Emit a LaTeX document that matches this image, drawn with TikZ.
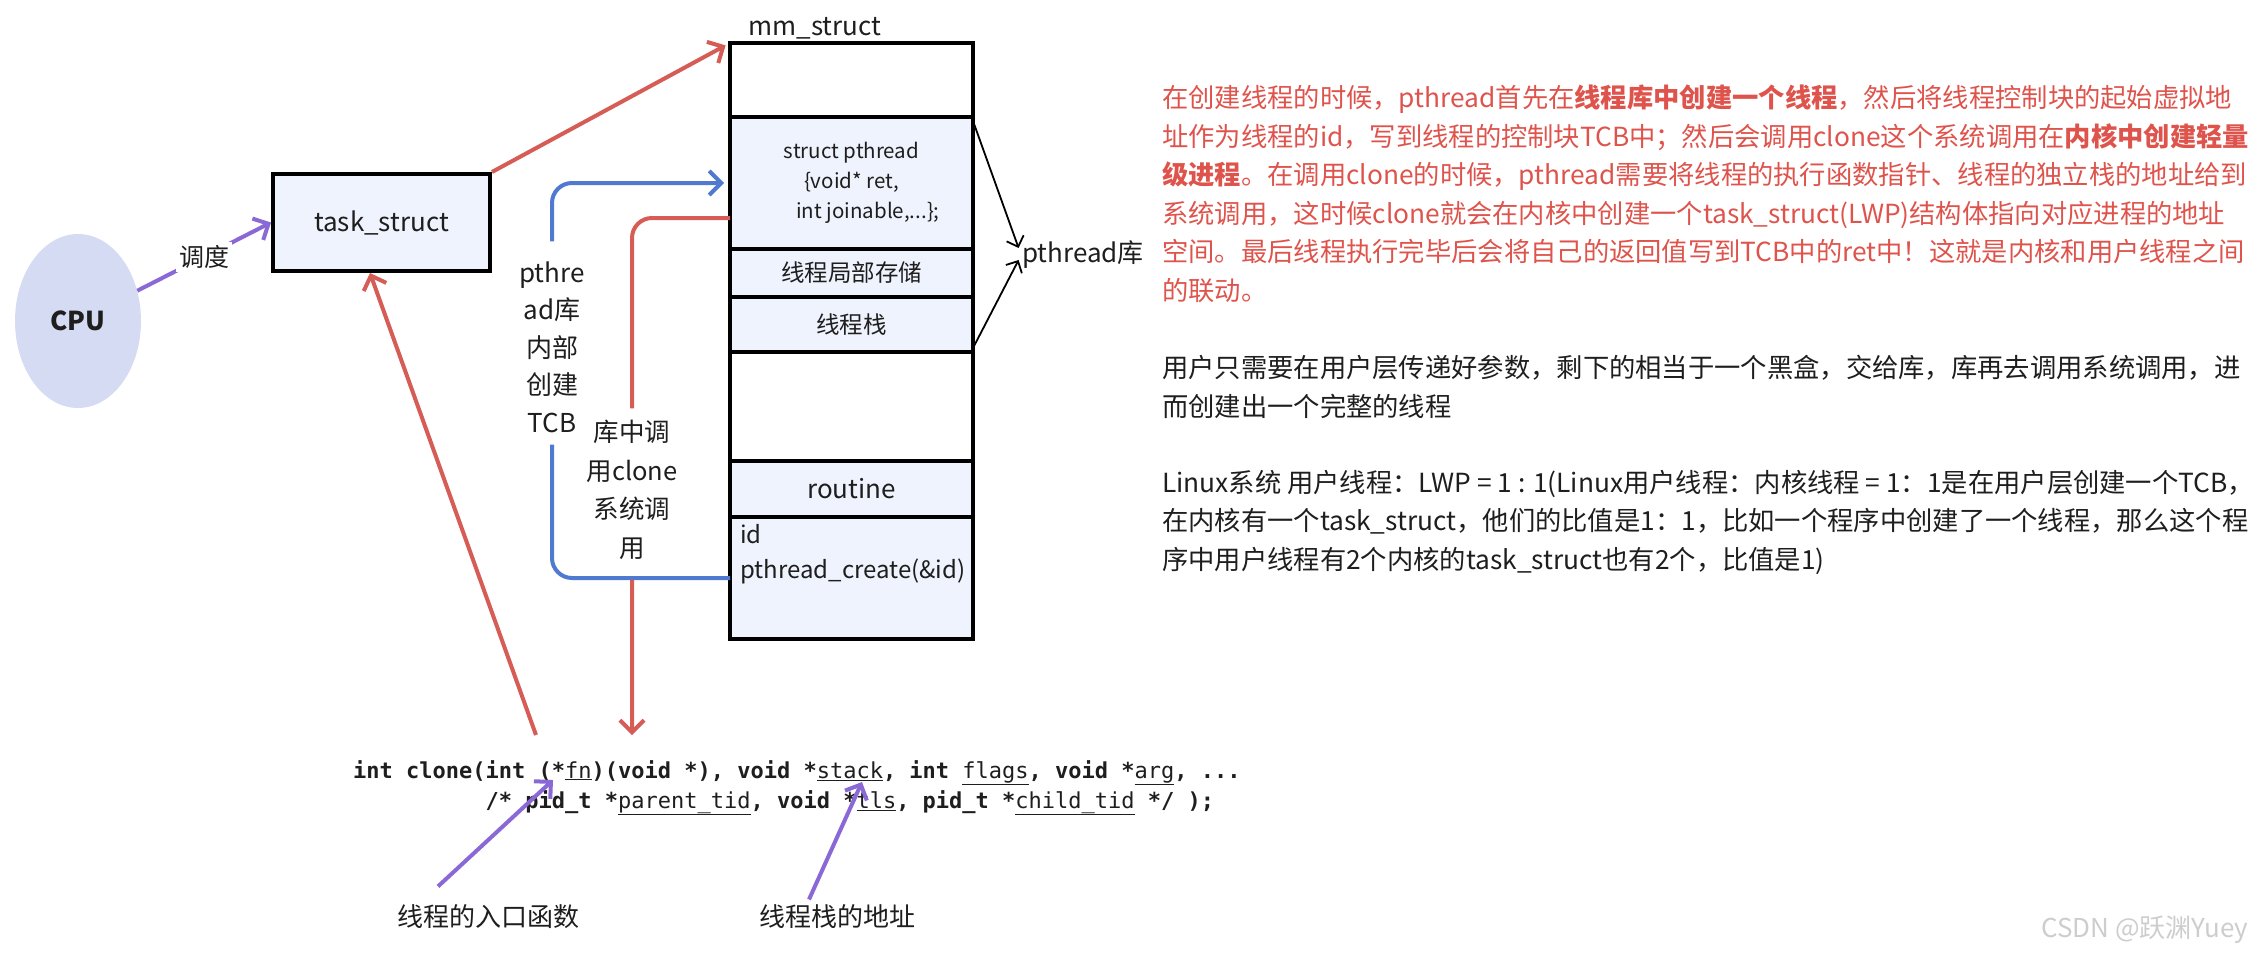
\documentclass[tikz,border=0pt]{standalone}
\usepackage{fontspec}
\setmainfont{Noto Sans CJK SC}
\newfontfamily\codefont{DejaVu Sans Mono}
\usepackage{xcolor}
\usepackage{tikz}
\usetikzlibrary{shapes.geometric, arrows.meta, positioning, calc}
\definecolor{CpuLavender}{RGB}{214,219,244}
\definecolor{BoxBlue}{RGB}{239,243,253}
\definecolor{LinkRed}{RGB}{214,92,86}
\definecolor{LinkBlue}{RGB}{80,122,208}
\definecolor{LinkPurple}{RGB}{138,104,214}
\definecolor{NoteRed}{RGB}{222,84,76}
\definecolor{TextDark}{RGB}{30,30,30}
\definecolor{MarkGray}{RGB}{205,205,205}

% underlined argument name in the prototype
\newcommand{\codearg}[1]{{\mdseries\underline{#1}}}

\begin{document}
\begin{tikzpicture}[x=1pt, y=-1pt, text=TextDark,
  font=\fontsize{26}{34}\selectfont,
  segbox/.style={draw=black, line width=3.5pt, fill=BoxBlue,
                 minimum width=243pt, outer sep=0pt, inner sep=0pt},
  redlink/.style={LinkRed, line width=4pt,
                  -{Straight Barb[length=12pt,width=24pt]}},
  bluelink/.style={LinkBlue, line width=4pt,
                   -{Straight Barb[length=12pt,width=24pt]}},
  purplink/.style={LinkPurple, line width=4pt,
                   -{Straight Barb[length=12pt,width=24pt]}},
  thinlink/.style={black, line width=1.8pt,
                   -{Straight Barb[length=9pt,width=18pt]}}]
\useasboundingbox (0,0) rectangle (2261,967);

% CPU and task_struct
\node[ellipse, fill=CpuLavender, minimum width=126pt, minimum height=174pt,
      font=\fontsize{26}{30}\selectfont\bfseries] (cpu) at (78,321) {CPU};
\node[draw=black, line width=4pt, fill=BoxBlue, minimum width=217pt,
      minimum height=97pt] (task) at (381.5,222.5) {task\_struct};

% mm_struct column
\node (mmlbl) at (815,28) {mm\_struct};
\node[segbox, fill=white, minimum height=74pt, anchor=north] (seg0) at (851.5,43) {};
\node[segbox, minimum height=132pt, below=0pt of seg0, align=center,
      font=\fontsize{20.5}{30}\selectfont] (seg1)
      {struct pthread\\\{void* ret,\\\hspace*{1.6em}int joinable,...\};};
\node[segbox, minimum height=48pt, below=0pt of seg1,
      font=\fontsize{23.5}{28}\selectfont] (seg2) {线程局部存储};
\node[segbox, minimum height=55pt, below=0pt of seg2,
      font=\fontsize{23.5}{28}\selectfont] (seg3) {线程栈};
\node[segbox, fill=white, minimum height=109pt, below=0pt of seg3] (seg4) {};
\node[segbox, minimum height=56pt, below=0pt of seg4] (seg5) {routine};
\node[segbox, minimum height=122pt, below=0pt of seg5] (seg6) {};
\node[anchor=north west, align=left, inner sep=0pt,
      font=\fontsize{24}{35}\selectfont] (idtext)
      at ([xshift=10pt,yshift=-7pt]seg6.north west) {id\\pthread\_create(\&id)};

% pthread库
\node (plib) at (1083,255) {pthread库};
\draw[thinlink] ([yshift=-4pt]seg1.north east) -- ([yshift=7pt]plib.west);
\draw[thinlink] ([yshift=4pt]seg3.south east) -- ([yshift=-5pt]plib.west);

% links
\draw[purplink] (cpu) -- node[fill=white, text=TextDark, font=\fontsize{25}{30}\selectfont] (schedlbl) {调度} (task.west);
\draw[redlink, shorten >=5pt] (task.north east) -- (seg0.north west);

\coordinate (fnstart) at (536,735);
\draw[redlink] (fnstart) -- ([xshift=-11.5pt]task.south);

\node[align=center, inner sep=12pt, font=\fontsize{26}{37.5}\selectfont] (tcblbl)
  at (552,347) {pthre\\ad库\\内部\\创建\\TCB};
\draw[bluelink, rounded corners=20pt, shorten <=8pt, shorten >=6pt]
  (seg6.west) -| (tcblbl.south) (tcblbl.north) |- (seg1.west);

\node[align=center, inner sep=12pt, font=\fontsize{25.5}{38.5}\selectfont] (clonelbl)
  at (632,490) {库中调\\用clone\\系统调\\用};
\coordinate (clonetip) at (632,735);
\draw[redlink, rounded corners=20pt, shorten <=8pt]
  ([yshift=-35pt]seg1.west) -| (clonelbl.north) (clonelbl.south) -- (clonetip);

% clone() prototype
\node[anchor=north west, align=left, inner sep=0pt,
      font=\codefont\bfseries\fontsize{22}{30}\selectfont] (clonecode) at (353,760)
  {int clone(int (*\codearg{fn})(void *), void *\codearg{stack}, int \codearg{flags}, void *\codearg{arg}, ...\\
   \hphantom{int clone(}/* pid\_t *\codearg{parent\_tid}, void *\codearg{tls}, pid\_t *\codearg{child\_tid} */ );};

\coordinate (fnarg) at (553,780);
\coordinate (stackarg) at (862,782);
\node (entrylbl) at (488,917) {线程的入口函数};
\node (stacklbl) at (837,917) {线程栈的地址};
\draw[purplink] ([xshift=-50pt,yshift=15pt]entrylbl.north) -- (fnarg);
\draw[purplink] ([xshift=-28pt,yshift=2pt]stacklbl.north) -- (stackarg);

% notes on the right
\node[anchor=north west, align=left, inner sep=0pt, text=NoteRed,
      font=\fontsize{26.3}{38.5}\selectfont] (note1) at (1162,85)
  {在创建线程的时候，pthread首先在{\bfseries 线程库中创建一个线程}，然后将线程控制块的起始虚拟地\\
   址作为线程的id，写到线程的控制块TCB中；然后会调用clone这个系统调用在{\bfseries 内核中创建轻量}\\
   {\bfseries 级进程}。在调用clone的时候，pthread需要将线程的执行函数指针、线程的独立栈的地址给到\\
   系统调用，这时候clone就会在内核中创建一个task\_struct(LWP)结构体指向对应进程的地址\\
   空间。最后线程执行完毕后会将自己的返回值写到TCB中的ret中！这就是内核和用户线程之间\\
   的联动。};
\node[anchor=north west, align=left, inner sep=0pt,
      font=\fontsize{26.3}{38.5}\selectfont] (note2) at (1162,355)
  {用户只需要在用户层传递好参数，剩下的相当于一个黑盒，交给库，库再去调用系统调用，进\\
   而创建出一个完整的线程};
\node[anchor=north west, align=left, inner sep=0pt,
      font=\fontsize{26.3}{38.5}\selectfont] (note3) at (1162,470)
  {Linux系统 用户线程：LWP = 1 : 1(Linux用户线程：内核线程 = 1：1是在用户层创建一个TCB，\\
   在内核有一个task\_struct，他们的比值是1：1，比如一个程序中创建了一个线程，那么这个程\\
   序中用户线程有2个内核的task\_struct也有2个，比值是1)};

% watermark
\node[anchor=east, text=MarkGray, font=\fontsize{26}{30}\selectfont] (mark)
  at (2252,930) {CSDN @跃渊Yuey};

\end{tikzpicture}
\end{document}
